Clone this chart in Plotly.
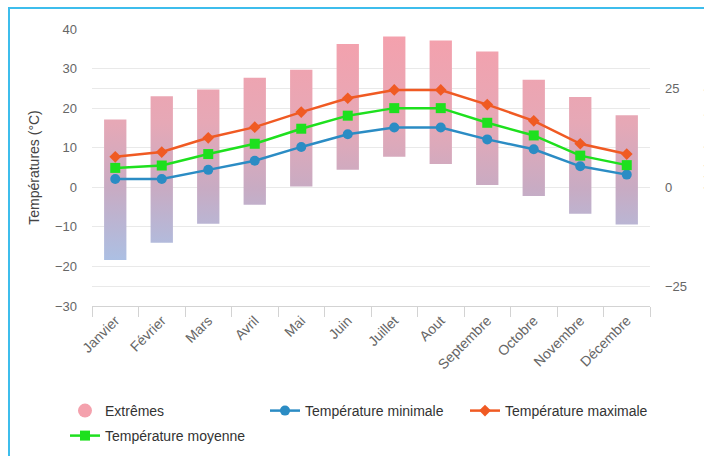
import plotly.graph_objects as go

# Monthly climate data (°C)
mois = ["Janvier", "Février", "Mars", "Avril", "Mai", "Juin", "Juillet",
        "Aout", "Septembre", "Octobre", "Novembre", "Décembre"]
extreme_bas = [-18.4, -14.0, -9.2, -4.4, 0.2, 4.4, 7.7, 5.9, 0.6, -2.2, -6.7, -9.4]
extreme_haut = [17.1, 23.0, 24.7, 27.7, 29.7, 36.2, 38.1, 37.1, 34.3, 27.2, 22.8, 18.2]
temp_min = [2.1, 2.1, 4.4, 6.7, 10.2, 13.4, 15.1, 15.1, 12.1, 9.6, 5.3, 3.2]
temp_moy = [4.9, 5.5, 8.4, 11.0, 14.8, 18.1, 20.0, 20.0, 16.3, 13.1, 8.0, 5.6]
temp_max = [7.7, 8.9, 12.5, 15.2, 19.0, 22.5, 24.6, 24.6, 20.9, 16.8, 11.0, 8.4]

y_ticks = [-30, -20, -10, 0, 10, 20, 30, 40]
y2_ticks = [-25, 0, 25]

x = list(range(len(mois)))
demi_largeur = 0.24

TXT = "#666666"
GRID = "#e9e9e9"
FONT = "Liberation Sans, Arial, sans-serif"

# Range columns (extremes) as gradient-filled rectangles
bx, by = [], []
for i, (lo, hi) in enumerate(zip(extreme_bas, extreme_haut)):
    bx += [i - demi_largeur, i + demi_largeur, i + demi_largeur, i - demi_largeur, i - demi_largeur, None]
    by += [lo, lo, hi, hi, lo, None]

fig = go.Figure()
fig.add_trace(go.Scatter(
    x=bx, y=by, mode="lines", fill="toself", line=dict(width=0),
    fillgradient=dict(
        type="vertical", start=-19, stop=38,
        colorscale=[[0, "#abc0e4"], [0.33, "#c8abc3"], [0.62, "#e6a8b6"], [1, "#f4a1ad"]],
    ),
    hoverinfo="skip", showlegend=False,
))
# Legend entry for the extremes
fig.add_trace(go.Scatter(
    x=[None], y=[None], mode="markers", name="Extrêmes", legend="legend",
    marker=dict(symbol="circle", size=14, color="#f4a1ad"),
))
fig.add_trace(go.Scatter(
    x=x, y=temp_min, mode="lines+markers", name="Température minimale", legend="legend2",
    line=dict(color="#2b8cc4", width=2.5),
    marker=dict(symbol="circle", size=10, color="#2b8cc4"),
))
fig.add_trace(go.Scatter(
    x=x, y=temp_max, mode="lines+markers", name="Température maximale", legend="legend3",
    line=dict(color="#f05a23", width=2.5),
    marker=dict(symbol="diamond", size=9, color="#f05a23"),
))
fig.add_trace(go.Scatter(
    x=x, y=temp_moy, mode="lines+markers", name="Température moyenne", legend="legend4",
    line=dict(color="#1ee01e", width=2.5),
    marker=dict(symbol="square", size=10, color="#1ee01e"),
))
# Secondary axis (same scale) carrying the right-hand ticks
fig.add_trace(go.Scatter(x=[None], y=[None], yaxis="y2", showlegend=False, hoverinfo="skip"))

legend_style = dict(
    orientation="h", xref="container", yref="container", xanchor="left", yanchor="top",
    font=dict(size=14, color="#333333", family=FONT),
    bgcolor="rgba(0,0,0,0)",
)
row1 = 1 - 395 / 456
row2 = 1 - 420 / 456

fig.update_layout(
    width=704, height=456,
    margin=dict(l=92, r=54, t=29, b=150),
    paper_bgcolor="white", plot_bgcolor="white",
    font=dict(family=FONT, color=TXT, size=12),
    xaxis=dict(
        range=[-0.5, 11.5], tickmode="array", tickvals=x, ticktext=mois,
        tickangle=-45, ticks="", showgrid=False, zeroline=False, automargin=False,
        showline=True, linecolor="#d3d3d3", linewidth=1,
        tickfont=dict(size=14, color=TXT),
        minor=dict(tickmode="array", tickvals=[i - 0.5 for i in range(13)],
                   ticks="outside", ticklen=10, tickcolor="#d3d3d3", showgrid=False),
    ),
    yaxis=dict(
        range=[-30, 40], tickmode="array", tickvals=y_ticks, automargin=False,
        showgrid=True, gridcolor=GRID, zeroline=False, ticks="",
        ticklabelstandoff=14, tickfont=dict(size=13, color=TXT),
        title=dict(text="Températures (°C)", font=dict(size=14, color="#444444"), standoff=12),
    ),
    yaxis2=dict(
        range=[-30, 40], overlaying="y", side="right", tickmode="array", tickvals=y2_ticks,
        showgrid=True, gridcolor=GRID, zeroline=False, ticks="", automargin=False,
        ticklabelstandoff=14, tickfont=dict(size=13, color=TXT),
    ),
    legend=dict(legend_style, x=65 / 704, y=row1),
    legend2=dict(legend_style, x=265 / 704, y=row1),
    legend3=dict(legend_style, x=465 / 704, y=row1),
    legend4=dict(legend_style, x=65 / 704, y=row2),
    # Right-hand axis title, running off the right edge of the frame
    annotations=[dict(
        text="Précipitations (mm)", textangle=-90, showarrow=False,
        xref="paper", yref="paper", x=(700 - 92) / 558, y=0.574,
        xanchor="left", yanchor="middle",
        font=dict(size=14, color="#888888", family=FONT),
    )],
    shapes=[dict(
        type="rect", xref="paper", yref="paper",
        x0=(9 - 92) / 558, x1=1.4, y0=-0.7, y1=(306 - 8) / 277,
        line=dict(color="#3dbdec", width=2), fillcolor="rgba(0,0,0,0)", layer="below",
    )],
)

fig.write_html("out.html")
